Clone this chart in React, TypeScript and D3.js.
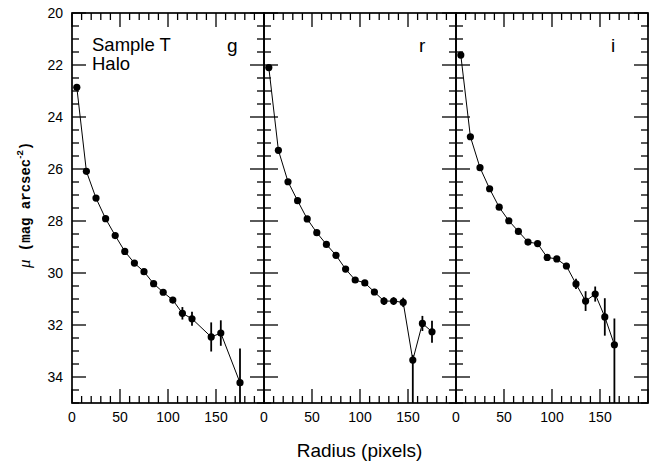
import React from "react";
import * as d3 from "d3";

const W = 654;
const H = 462;

// ----- data -----
const gRadius = [5, 15, 25, 35, 45, 55, 65, 75, 85, 95, 105, 115, 125, 145, 155, 175];
const gMu = [22.86, 26.09, 27.12, 27.91, 28.56, 29.17, 29.62, 29.95, 30.41, 30.74, 31.04, 31.55, 31.76, 32.46, 32.31, 34.22];
const gErrUp = [0.02, 0.03, 0.03, 0.04, 0.05, 0.06, 0.07, 0.08, 0.09, 0.1, 0.12, 0.24, 0.27, 0.56, 0.49, 1.32];
const gErrDown = [0.02, 0.03, 0.03, 0.04, 0.05, 0.06, 0.07, 0.08, 0.09, 0.1, 0.12, 0.24, 0.27, 0.56, 0.49, 1.32];

const rRadius = [5, 15, 25, 35, 45, 55, 65, 75, 85, 95, 105, 115, 125, 135, 145, 155, 165, 175];
const rMu = [22.1, 25.28, 26.49, 27.22, 27.92, 28.45, 28.9, 29.32, 29.85, 30.27, 30.38, 30.73, 31.08, 31.08, 31.13, 33.35, 31.94, 32.26];
const rErrUp = [0.02, 0.03, 0.03, 0.04, 0.05, 0.05, 0.06, 0.07, 0.08, 0.09, 0.1, 0.12, 0.15, 0.15, 0.18, 0.2, 0.29, 0.42];
const rErrDown = [0.02, 0.03, 0.03, 0.04, 0.05, 0.05, 0.06, 0.07, 0.08, 0.09, 0.1, 0.12, 0.15, 0.15, 0.18, 3.0, 0.29, 0.42];

const iRadius = [5, 15, 25, 35, 45, 55, 65, 75, 85, 95, 105, 115, 125, 135, 145, 155, 165];
const iMu = [21.62, 24.76, 25.95, 26.76, 27.47, 27.99, 28.4, 28.81, 28.87, 29.4, 29.46, 29.73, 30.42, 31.08, 30.81, 31.69, 32.76];
const iErrUp = [0.02, 0.03, 0.03, 0.04, 0.05, 0.05, 0.06, 0.07, 0.08, 0.09, 0.1, 0.12, 0.2, 0.38, 0.29, 0.72, 1.01];
const iErrDown = [0.02, 0.03, 0.03, 0.04, 0.05, 0.05, 0.06, 0.07, 0.08, 0.09, 0.1, 0.12, 0.2, 0.38, 0.29, 0.72, 3.0];

const bandNames = ["g", "r", "i"];
const xTickLabels = [0, 50, 100, 150];
const yTickLabels = [20, 22, 24, 26, 28, 30, 32, 34];

const X_DOMAIN: [number, number] = [0, 200];
const Y_DOMAIN: [number, number] = [20, 35];

// ----- layout -----
const plotLeft = 72;
const panelW = 192;
const plotTop = 13;
const plotBottom = 403;

const y = d3.scaleLinear().domain(Y_DOMAIN).range([plotTop, plotBottom]);

const sans = "'Liberation Sans', Arial, Helvetica, sans-serif";
const mono = "'Liberation Mono', 'DejaVu Sans Mono', monospace";

type Series = { r: number[]; mu: number[]; up: number[]; down: number[] };
const series: Series[] = [
  { r: gRadius, mu: gMu, up: gErrUp, down: gErrDown },
  { r: rRadius, mu: rMu, up: rErrUp, down: rErrDown },
  { r: iRadius, mu: iMu, up: iErrUp, down: iErrDown },
];

function Panel({ idx }: { idx: number }) {
  const left = plotLeft + idx * panelW;
  const right = left + panelW;
  const x = d3.scaleLinear().domain(X_DOMAIN).range([left, right]);
  const s = series[idx];
  const pts = s.r.map((r, k) => ({ r, mu: s.mu[k], up: s.up[k], down: s.down[k] }));
  const line = d3
    .line<{ r: number; mu: number }>()
    .x((d) => x(d.r))
    .y((d) => y(d.mu));

  const xMinor = x.ticks(20);
  const xMajor = x.ticks(4);
  const yMinor = d3.range(Y_DOMAIN[0], Y_DOMAIN[1] + 0.001, 0.5);
  const yMajor = yTickLabels;
  const major = 14;
  const minor = 7;
  const tickW = 1.3;
  const clipId = `clip-${idx}`;

  return (
    <g>
      <defs>
        <clipPath id={clipId}>
          <rect x={left} y={plotTop} width={panelW} height={plotBottom - plotTop} />
        </clipPath>
      </defs>
      {xMinor.map((t) => {
        const isMajor = xMajor.includes(t);
        const len = isMajor ? major : minor;
        return (
          <g key={`xt${t}`} stroke="#000" strokeWidth={tickW}>
            <line x1={x(t)} x2={x(t)} y1={plotBottom} y2={plotBottom - len} />
            <line x1={x(t)} x2={x(t)} y1={plotTop} y2={plotTop + len} />
          </g>
        );
      })}
      {yMinor.map((t) => {
        const isMajor = yMajor.includes(t);
        const len = isMajor ? major : minor;
        return (
          <g key={`yt${t}`} stroke="#000" strokeWidth={tickW}>
            <line x1={left} x2={left + len} y1={y(t)} y2={y(t)} />
            <line x1={right} x2={right - len} y1={y(t)} y2={y(t)} />
          </g>
        );
      })}
      <rect
        x={left}
        y={plotTop}
        width={panelW}
        height={plotBottom - plotTop}
        fill="none"
        stroke="#000"
        strokeWidth={1.7}
      />
      {xTickLabels.map((t) => (
        <text
          key={`xl${t}`}
          x={x(t)}
          y={422}
          textAnchor="middle"
          fontFamily={sans}
          fontSize={14}
          fill="#000"
        >
          {t}
        </text>
      ))}
      <g clipPath={`url(#${clipId})`}>
        <path d={line(pts) || ""} fill="none" stroke="#000" strokeWidth={1} />
        {pts.map((p, k) => (
          <line
            key={`e${k}`}
            x1={x(p.r)}
            x2={x(p.r)}
            y1={y(p.mu - p.up)}
            y2={y(p.mu + p.down)}
            stroke="#000"
            strokeWidth={1.8}
          />
        ))}
        {pts.map((p, k) => (
          <circle key={`c${k}`} cx={x(p.r)} cy={y(p.mu)} r={3.6} fill="#000" />
        ))}
      </g>
      <text x={left + 155} y={52} fontFamily={sans} fontSize={19} fill="#000">
        {bandNames[idx]}
      </text>
    </g>
  );
}

export default function App() {
  return (
    <svg
      width={W}
      height={H}
      viewBox={`0 0 ${W} ${H}`}
      style={{ position: "absolute", left: 0, top: 0, background: "#fff" }}
    >
      <rect x={0} y={0} width={W} height={H} fill="#fff" />
      {bandNames.map((_, i) => (
        <Panel key={i} idx={i} />
      ))}
      {yTickLabels.map((t) => (
        <text
          key={`yl${t}`}
          x={63}
          y={y(t) + 5}
          textAnchor="end"
          fontFamily={sans}
          fontSize={14}
          fill="#000"
        >
          {t}
        </text>
      ))}
      <text x={92} y={51} fontFamily={sans} fontSize={18.5} fill="#000">
        Sample T
      </text>
      <text x={92} y={70} fontFamily={sans} fontSize={18.5} fill="#000">
        Halo
      </text>
      <text
        x={359.5}
        y={457}
        textAnchor="middle"
        fontFamily={sans}
        fontSize={19}
        fill="#000"
      >
        Radius (pixels)
      </text>
      <text
        transform={`translate(30, 205) rotate(-90)`}
        textAnchor="middle"
        fontSize={14}
        fill="#000"
      >
        <tspan fontFamily="'Liberation Serif', serif" fontStyle="italic" fontSize={17}>
          μ
        </tspan>
        <tspan fontFamily={mono} fontWeight="bold">
          {" (mag arcsec"}
        </tspan>
        <tspan fontFamily={sans} fontWeight="bold" fontSize={9.5} dy={-7}>
          -2
        </tspan>
        <tspan fontFamily={mono} fontWeight="bold" dy={7}>
          )
        </tspan>
      </text>
    </svg>
  );
}
